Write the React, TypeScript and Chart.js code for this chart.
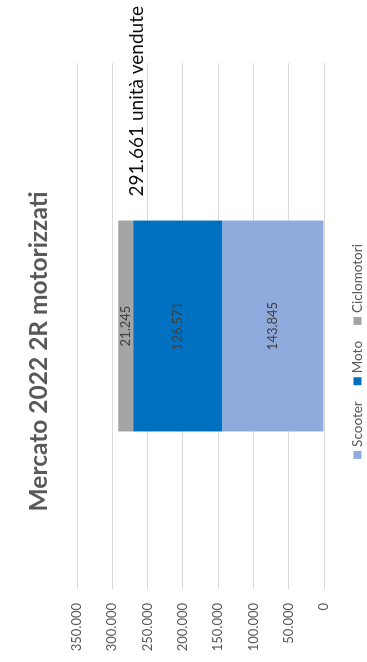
import React, { useEffect, useRef } from "react";
import { Chart, registerables } from "chart.js";

Chart.register(...registerables);

const categories = ["2022"];
const seriesNames = ["Scooter", "Moto", "Ciclomotori"];
const scooter = [143845];
const moto = [126571];
const ciclomotori = [21245];
const seriesColors = ["#8FAADC", "#0070C0", "#A5A5A5"];
const chartTitle = "Mercato 2022 2R motorizzati";
const totalSuffix = " unità vendute";
const yMin = 0;
const yMax = 350000;
const yStep = 50000;

const FONT = "Lato, 'Open Sans', sans-serif";

const fmt = (v: number) =>
  Math.round(v)
    .toString()
    .replace(/\B(?=(\d{3})+(?!\d))/g, ".");

const overlay = {
  id: "overlay",
  afterDatasetsDraw(chart: any) {
    const ctx = chart.ctx;
    ctx.save();
    ctx.font = `13px ${FONT}`;
    ctx.fillStyle = "#404040";
    ctx.textAlign = "center";
    ctx.textBaseline = "middle";
    chart.data.datasets.forEach((ds: any, i: number) => {
      const meta = chart.getDatasetMeta(i);
      meta.data.forEach((bar: any, j: number) => {
        const p = bar.getProps(["x", "y", "base"], true);
        ctx.fillText(fmt(ds.data[j]), p.x, (p.y + p.base) / 2);
      });
    });
    ctx.restore();
  },
  afterDraw(chart: any) {
    const ctx = chart.ctx;
    ctx.save();
    // Title
    ctx.font = `bold 24.5px ${FONT}`;
    ctx.fillStyle = "#595959";
    ctx.textAlign = "center";
    ctx.textBaseline = "middle";
    ctx.fillText(chartTitle, 310.5, 39);

    // Total annotation, anchored to the top of the stack
    const lastMeta = chart.getDatasetMeta(chart.data.datasets.length - 1);
    const topBar: any = lastMeta.data[0];
    if (topBar) {
      const p = topBar.getProps(["x", "y", "width"], true);
      let total = 0;
      chart.data.datasets.forEach((ds: any) => (total += ds.data[0]));
      ctx.font = `19px ${FONT}`;
      ctx.fillStyle = "#0d0d0d";
      ctx.textAlign = "left";
      ctx.textBaseline = "alphabetic";
      ctx.fillText(fmt(total) + totalSuffix, p.x + p.width / 2 + 24, p.y + 25);
    }

    // Legend
    ctx.font = `13.5px ${FONT}`;
    ctx.textBaseline = "middle";
    ctx.textAlign = "left";
    const box = 8;
    const gap = 4;
    const itemGap = 16;
    const items = chart.data.datasets.map((ds: any) => ({
      label: ds.label,
      color: ds.backgroundColor,
      w: box + gap + ctx.measureText(ds.label).width,
    }));
    const totalW =
      items.reduce((a: number, it: any) => a + it.w, 0) + itemGap * (items.length - 1);
    let lx = 310.5 - totalW / 2;
    const ly = 357.5;
    items.forEach((it: any) => {
      ctx.fillStyle = it.color;
      ctx.fillRect(lx, ly - box / 2, box, box);
      ctx.fillStyle = "#595959";
      ctx.fillText(it.label, lx + box + gap, ly);
      lx += it.w + itemGap;
    });
    ctx.restore();
  },
};

export default function App() {
  const ref = useRef<HTMLCanvasElement | null>(null);

  useEffect(() => {
    if (!ref.current) return;
    const values = [scooter, moto, ciclomotori];
    const chart = new Chart(ref.current, {
      type: "bar",
      data: {
        labels: categories,
        datasets: seriesNames.map((name, i) => ({
          label: name,
          data: values[i],
          backgroundColor: seriesColors[i],
          borderWidth: 0,
          barPercentage: 0.401,
          categoryPercentage: 1,
        })),
      },
      options: {
        responsive: false,
        animation: false,
        devicePixelRatio: 1,
        layout: { padding: { left: 0, top: 77, right: 63, bottom: 43 } },
        plugins: {
          legend: { display: false },
          title: { display: false },
          tooltip: { enabled: false },
        },
        scales: {
          x: { stacked: true, display: false },
          y: {
            stacked: true,
            min: yMin,
            max: yMax,
            ticks: {
              stepSize: yStep,
              callback: (v: any) => fmt(Number(v)),
              color: "#595959",
              font: { family: FONT, size: 13 },
              padding: 14,
            },
            grid: { color: "#D9D9D9", drawTicks: false, lineWidth: 1 },
            border: { display: false },
            afterFit: (s: any) => {
              s.width = 73;
            },
          },
        },
      },
      plugins: [overlay],
    });
    return () => chart.destroy();
  }, []);

  return (
    <div
      style={{
        position: "fixed",
        left: 0,
        top: 0,
        width: 662,
        height: 367,
        background: "#fff",
        transformOrigin: "0 0",
        transform: "translateY(662px) rotate(-90deg)",
      }}
    >
      <canvas ref={ref} width={662} height={367} style={{ width: 662, height: 367, display: "block" }} />
    </div>
  );
}
